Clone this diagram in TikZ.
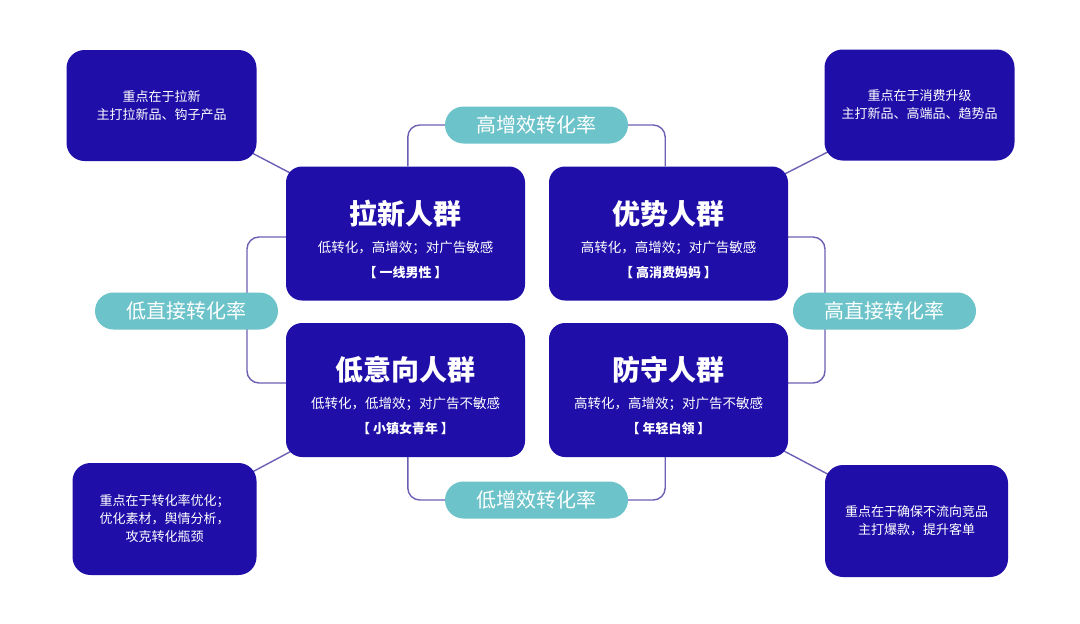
\documentclass[tikz,border=0pt]{standalone}
\usepackage{fontspec}
\setmainfont{Noto Sans CJK SC}
\definecolor{navy}{RGB}{31,14,168}
\definecolor{tealp}{RGB}{108,195,201}
\definecolor{connc}{RGB}{108,96,180}
\pgfdeclarelayer{bg}
\pgfsetlayers{bg,main}
\tikzset{
 mainbox/.style={fill=navy, rounded corners=16pt, minimum width=239pt, minimum height=134pt, inner sep=0pt},
 sidebox/.style={fill=navy, rounded corners=18pt, inner sep=0pt, text=white, align=center, font=\fontsize{13}{18}\selectfont},
 pill/.style={fill=tealp, rounded corners=18.5pt, minimum width=183pt, minimum height=37pt, inner sep=0pt, text=white, font=\fontsize{20}{24}\selectfont},
 link/.style={draw=connc, line width=1.4pt},
 ttl/.style={text=white, inner sep=0pt, font=\fontsize{28}{30}\selectfont\bfseries},
 subt/.style={text=white, inner sep=0pt, font=\fontsize{13.5}{16}\selectfont},
 tagt/.style={text=white, inner sep=0pt, font=\fontsize{13}{16}\selectfont\bfseries},
}
\begin{document}
\begin{tikzpicture}[x=1pt,y=-1pt]
\useasboundingbox (0,0) rectangle (1080,624);
% main boxes
\node[mainbox] (a) at (405.5,233.5) {};
\node[mainbox] (b) at (668.5,233.5) {};
\node[mainbox] (c) at (405.5,390) {};
\node[mainbox] (d) at (668.5,390) {};
% texts in main boxes
\node[ttl] (at) at ([yshift=20pt]a.center) {拉新人群};
\node[subt] (as) at ([yshift=-14pt]a.center) {低转化，高增效；对广告敏感};
\node[tagt] (ag) at ([yshift=-39pt]a.center) {【 一线男性 】};
\node[ttl] (bt) at ([yshift=20pt]b.center) {优势人群};
\node[subt] (bs) at ([yshift=-14pt]b.center) {高转化，高增效；对广告敏感};
\node[tagt] (bg) at ([yshift=-39pt]b.center) {【 高消费妈妈 】};
\node[ttl] (ct) at ([yshift=20pt]c.center) {低意向人群};
\node[subt] (cs) at ([yshift=-14pt]c.center) {低转化，低增效；对广告不敏感};
\node[tagt] (cg) at ([yshift=-39pt]c.center) {【 小镇女青年 】};
\node[ttl] (dt) at ([yshift=20pt]d.center) {防守人群};
\node[subt] (ds) at ([yshift=-14pt]d.center) {高转化，高增效；对广告不敏感};
\node[tagt] (dg) at ([yshift=-39pt]d.center) {【 年轻白领 】};
% side boxes
\node[sidebox, minimum width=190pt, minimum height=111pt] (tl) at (161.5,105.5) {重点在于拉新\\主打拉新品、钩子产品};
\node[sidebox, minimum width=190pt, minimum height=111pt] (tr) at (919.5,105) {重点在于消费升级\\主打新品、高端品、趋势品};
\node[sidebox, minimum width=184pt, minimum height=112pt] (bl) at (164.5,519) {重点在于转化率优化；\\优化素材，舆情分析，\\攻克转化瓶颈};
\node[sidebox, minimum width=183pt, minimum height=112pt] (br) at (916.5,521) {重点在于确保不流向竞品\\主打爆款，提升客单};
% pills
\node[pill] (pt) at (536.5,125) {高增效转化率};
\node[pill] (pb) at (536.5,500) {低增效转化率};
\node[pill] (pl) at (186.5,311) {低直接转化率};
\node[pill] (pr) at (884.5,311) {高直接转化率};
% coordinates for brackets
\coordinate (t1) at ([xshift=-37pt]pt.west);
\coordinate (t2) at ([xshift=37pt]pt.east);
\coordinate (b1) at ([xshift=-37pt]pb.west);
\coordinate (b2) at ([xshift=37pt]pb.east);
\coordinate (l1) at (247,237);
\coordinate (l2) at (247,383);
\coordinate (r1) at (825,237);
\coordinate (r2) at (825,383);
\begin{pgfonlayer}{bg}
\fill[white] (0,0) rectangle (1080,624);
\draw[link] (tl.center) -- (a.center);
\draw[link] (tr.center) -- (b.center);
\draw[link] (bl.center) -- (c.center);
\draw[link] (br.center) -- (d.center);
\draw[link, rounded corners=12pt] (t1 |- a.north) |- (pt.west);
\draw[link, rounded corners=12pt] (pt.east) -| (t2 |- b.north);
\draw[link, rounded corners=12pt] (b1 |- c.south) |- (pb.west);
\draw[link, rounded corners=12pt] (pb.east) -| (b2 |- d.south);
\draw[link, rounded corners=12pt] (a.west |- l1) -- (l1) -- (l2) -- (c.west |- l2);
\draw[link, rounded corners=12pt] (b.east |- r1) -- (r1) -- (r2) -- (d.east |- r2);
\end{pgfonlayer}
\end{tikzpicture}
\end{document}
